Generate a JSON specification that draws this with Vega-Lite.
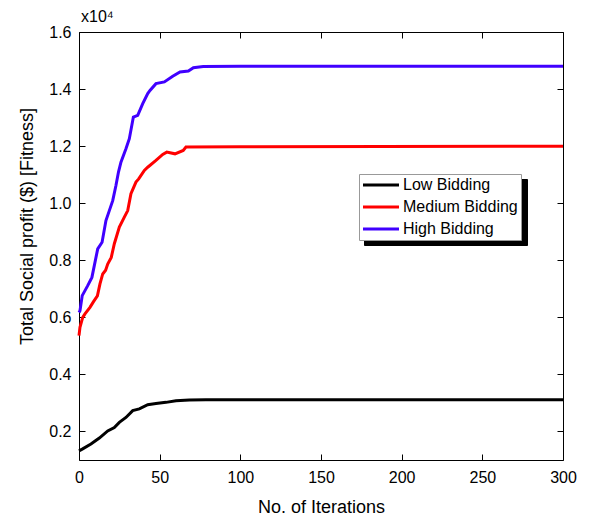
{
  "$schema": "https://vega.github.io/schema/vega-lite/v6.json",
  "width": 484,
  "height": 428,
  "autosize": {"type": "none"},
  "padding": {"left": 79, "top": 32, "right": 26, "bottom": 55},
  "background": "white",
  "config": {
    "font": "Liberation Sans",
    "view": {"stroke": null},
    "axis": {"grid": false, "domainColor": "black", "tickColor": "black", "labelColor": "black", "titleColor": "black", "labelFont": "Liberation Sans", "titleFont": "Liberation Sans", "labelFontSize": 16, "titleFontSize": 18, "titleFontWeight": "normal", "tickSize": -6, "domainWidth": 1, "tickWidth": 1, "labelFlush": false}
  },
  "title": {"text": "x10⁴", "anchor": "start", "frame": "group", "fontSize": 16, "fontWeight": "normal", "font": "Liberation Sans", "color": "black", "offset": -1, "dx": 2},
  "data": {"values": [
    {"it": 0, "series": "High Bidding", "v": 6170},
    {"it": 0.6, "series": "High Bidding", "v": 6230},
    {"it": 2, "series": "High Bidding", "v": 6760},
    {"it": 5.4, "series": "High Bidding", "v": 7110},
    {"it": 8, "series": "High Bidding", "v": 7400},
    {"it": 11.6, "series": "High Bidding", "v": 8400},
    {"it": 14.3, "series": "High Bidding", "v": 8630},
    {"it": 16.7, "series": "High Bidding", "v": 9390},
    {"it": 18.8, "series": "High Bidding", "v": 9740},
    {"it": 20.9, "series": "High Bidding", "v": 10090},
    {"it": 22.9, "series": "High Bidding", "v": 10620},
    {"it": 24.5, "series": "High Bidding", "v": 11100},
    {"it": 26, "series": "High Bidding", "v": 11440},
    {"it": 29.1, "series": "High Bidding", "v": 11910},
    {"it": 31.2, "series": "High Bidding", "v": 12260},
    {"it": 33.7, "series": "High Bidding", "v": 13020},
    {"it": 36.4, "series": "High Bidding", "v": 13080},
    {"it": 39.5, "series": "High Bidding", "v": 13490},
    {"it": 42.6, "series": "High Bidding", "v": 13840},
    {"it": 44, "series": "High Bidding", "v": 13950},
    {"it": 47.7, "series": "High Bidding", "v": 14190},
    {"it": 52.9, "series": "High Bidding", "v": 14250},
    {"it": 58.1, "series": "High Bidding", "v": 14450},
    {"it": 62.6, "series": "High Bidding", "v": 14600},
    {"it": 67.8, "series": "High Bidding", "v": 14630},
    {"it": 70.9, "series": "High Bidding", "v": 14750},
    {"it": 77, "series": "High Bidding", "v": 14790},
    {"it": 100, "series": "High Bidding", "v": 14800},
    {"it": 300, "series": "High Bidding", "v": 14800},
    {"it": 0, "series": "Medium Bidding", "v": 5360},
    {"it": 0.6, "series": "Medium Bidding", "v": 5650},
    {"it": 2.3, "series": "Medium Bidding", "v": 6000},
    {"it": 3.7, "series": "Medium Bidding", "v": 6120},
    {"it": 6.8, "series": "Medium Bidding", "v": 6350},
    {"it": 9, "series": "Medium Bidding", "v": 6550},
    {"it": 11.4, "series": "Medium Bidding", "v": 6750},
    {"it": 13, "series": "Medium Bidding", "v": 7170},
    {"it": 14.7, "series": "Medium Bidding", "v": 7520},
    {"it": 16.5, "series": "Medium Bidding", "v": 7650},
    {"it": 17.8, "series": "Medium Bidding", "v": 7870},
    {"it": 20, "series": "Medium Bidding", "v": 8100},
    {"it": 21.9, "series": "Medium Bidding", "v": 8580},
    {"it": 25, "series": "Medium Bidding", "v": 9160},
    {"it": 28.1, "series": "Medium Bidding", "v": 9510},
    {"it": 30.2, "series": "Medium Bidding", "v": 9740},
    {"it": 32.2, "series": "Medium Bidding", "v": 10330},
    {"it": 35.3, "series": "Medium Bidding", "v": 10740},
    {"it": 37, "series": "Medium Bidding", "v": 10850},
    {"it": 40.5, "series": "Medium Bidding", "v": 11150},
    {"it": 42.6, "series": "Medium Bidding", "v": 11260},
    {"it": 47.7, "series": "Medium Bidding", "v": 11500},
    {"it": 51.9, "series": "Medium Bidding", "v": 11710},
    {"it": 54.4, "series": "Medium Bidding", "v": 11790},
    {"it": 59.5, "series": "Medium Bidding", "v": 11730},
    {"it": 64.6, "series": "Medium Bidding", "v": 11850},
    {"it": 66.3, "series": "Medium Bidding", "v": 11970},
    {"it": 100, "series": "Medium Bidding", "v": 11980},
    {"it": 300, "series": "Medium Bidding", "v": 12000},
    {"it": 0, "series": "Low Bidding", "v": 1320},
    {"it": 2, "series": "Low Bidding", "v": 1380},
    {"it": 7.4, "series": "Low Bidding", "v": 1560},
    {"it": 12.6, "series": "Low Bidding", "v": 1770},
    {"it": 17.8, "series": "Low Bidding", "v": 2020},
    {"it": 21.9, "series": "Low Bidding", "v": 2140},
    {"it": 25, "series": "Low Bidding", "v": 2320},
    {"it": 29.1, "series": "Low Bidding", "v": 2490},
    {"it": 33.3, "series": "Low Bidding", "v": 2730},
    {"it": 37.4, "series": "Low Bidding", "v": 2790},
    {"it": 42.6, "series": "Low Bidding", "v": 2940},
    {"it": 47.7, "series": "Low Bidding", "v": 2980},
    {"it": 53.9, "series": "Low Bidding", "v": 3020},
    {"it": 60.1, "series": "Low Bidding", "v": 3080},
    {"it": 68.4, "series": "Low Bidding", "v": 3100},
    {"it": 78.7, "series": "Low Bidding", "v": 3110},
    {"it": 300, "series": "Low Bidding", "v": 3110}
  ]},
  "layer": [
    {
      "mark": {"type": "line", "opacity": 0, "strokeWidth": 3},
      "encoding": {
        "x": {"field": "it", "type": "quantitative", "scale": {"domain": [0, 300], "nice": false, "zero": false},
              "axis": {"orient": "top", "labels": false, "title": null, "values": [0, 50, 100, 150, 200, 250, 300]}},
        "y": {"field": "v", "type": "quantitative", "scale": {"domain": [1000, 16000], "nice": false, "zero": false},
              "axis": {"orient": "right", "labels": false, "title": null, "values": [2000, 4000, 6000, 8000, 10000, 12000, 14000, 16000]}},
        "color": {"field": "series", "type": "nominal",
                  "scale": {"domain": ["Low Bidding", "Medium Bidding", "High Bidding"], "range": ["black", "black", "black"]},
                  "legend": {"orient": "none", "legendX": 285, "legendY": 147, "title": null, "fillColor": "black", "strokeColor": "black", "padding": 3, "rowPadding": 6,
                             "symbolType": "M-3.6,0H3.6", "symbolSize": 100, "symbolStrokeWidth": 3, "symbolOffset": 11, "labelOffset": 130, "labelExpr": "''", "labelFontSize": 16, "labelFont": "Liberation Sans", "labelColor": "black"}},
        "detail": {"field": "series"}
      }
    },
    {
      "mark": {"type": "line", "strokeWidth": 3},
      "encoding": {
        "x": {"field": "it", "type": "quantitative", "scale": {"domain": [0, 300], "nice": false, "zero": false},
              "axis": {"orient": "bottom", "title": "No. of Iterations", "values": [0, 50, 100, 150, 200, 250, 300], "labelPadding": 15, "titlePadding": 13}},
        "y": {"field": "v", "type": "quantitative", "scale": {"domain": [1000, 16000], "nice": false, "zero": false},
              "axis": {"orient": "left", "title": "Total Social profit ($) [Fitness]", "values": [2000, 4000, 6000, 8000, 10000, 12000, 14000, 16000],
                       "labelExpr": "format(datum.value / 10000, '.1f')", "labelPadding": 14, "titlePadding": 12, "titleY": 194}},
        "color": {"field": "series", "type": "nominal",
                  "scale": {"domain": ["Low Bidding", "Medium Bidding", "High Bidding"], "range": ["#000000", "#ff0000", "#4000ff"]},
                  "legend": {"orient": "none", "legendX": 280, "legendY": 142, "title": null, "fillColor": "white", "strokeColor": "#999999", "padding": 3, "rowPadding": 6,
                             "symbolType": "M-3.6,0H3.6", "symbolSize": 100, "symbolStrokeWidth": 3, "symbolOffset": 11, "labelOffset": 14, "labelFontSize": 16, "labelFont": "Liberation Sans", "labelColor": "black"}}
      }
    }
  ],
  "resolve": {"axis": {"x": "independent", "y": "independent"}, "scale": {"color": "independent"}, "legend": {"color": "independent"}}
}
